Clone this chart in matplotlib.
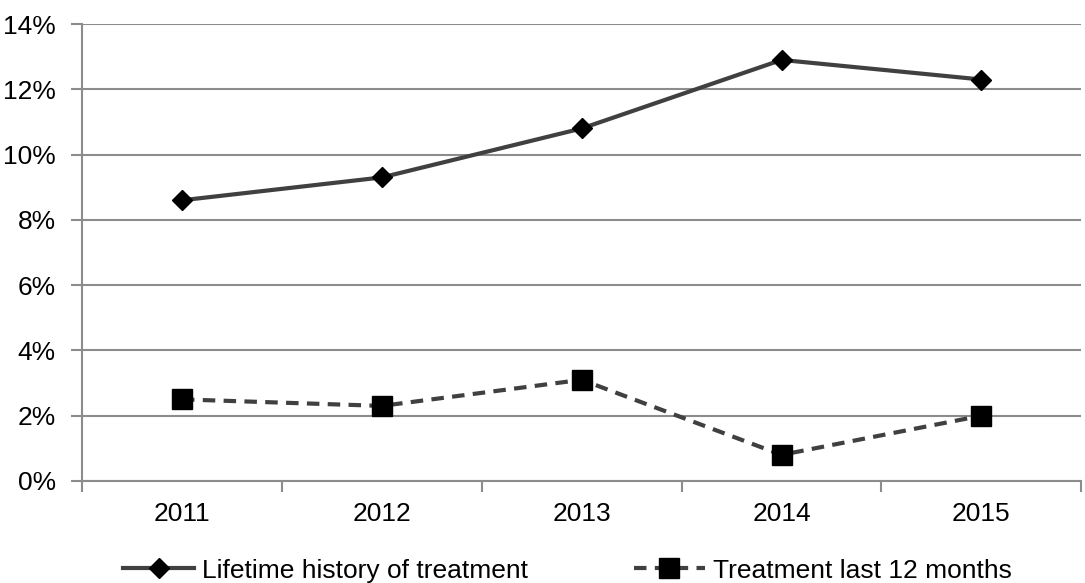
import matplotlib
matplotlib.use("Agg")
import matplotlib.pyplot as plt
from matplotlib.ticker import FuncFormatter
import numpy as np

plt.rcParams['font.family'] = ['Liberation Sans', 'DejaVu Sans']

years = ['2011', '2012', '2013', '2014', '2015']
lifetime = [8.6, 9.3, 10.8, 12.9, 12.3]
last12 = [2.5, 2.3, 3.1, 0.8, 2.0]

grid_col = '#8c8c8c'
line_col = '#404040'
fs = 19

fig = plt.figure(figsize=(10.85, 5.83), dpi=100)
ax = fig.add_axes([0.0756, 0.175, 0.921, 0.7838])

x = np.arange(len(years))
ax.plot(x, lifetime, color=line_col, lw=3, marker='D', ms=10,
        mfc='black', mec='black', label='Lifetime history of treatment')
ax.plot(x, last12, color=line_col, lw=3, ls=(0, (3, 2)), marker='s', ms=14,
        mfc='black', mec='black', label='Treatment last 12 months')

ax.set_ylim(0, 14)
ax.set_yticks(np.arange(0, 15, 2))
ax.yaxis.set_major_formatter(FuncFormatter(lambda v, p: "%d%%" % v))
ax.set_xlim(-0.5, len(years) - 0.5)
ax.set_xticks(x)
ax.set_xticklabels(years)
ax.set_xticks(np.arange(-0.5, len(years), 1), minor=True)
ax.tick_params(axis='x', which='major', length=0, pad=15, labelsize=fs)
ax.tick_params(axis='x', which='minor', length=8, color=grid_col, width=1.5)
ax.tick_params(axis='y', length=8, color=grid_col, width=1.5, labelsize=fs, pad=11)
ax.grid(True, axis='y', color=grid_col, lw=1.5)
ax.set_axisbelow(True)
for s in ['top', 'right']:
    ax.spines[s].set_visible(False)
for s in ['left', 'bottom']:
    ax.spines[s].set_color(grid_col)
    ax.spines[s].set_linewidth(1.5)

fig.legend(loc='lower center', bbox_to_anchor=(0.523, -0.04), ncol=2, frameon=False,
           fontsize=fs, columnspacing=4.0, handlelength=2.7, handletextpad=0.3)

fig.savefig('out.png', dpi=100)
